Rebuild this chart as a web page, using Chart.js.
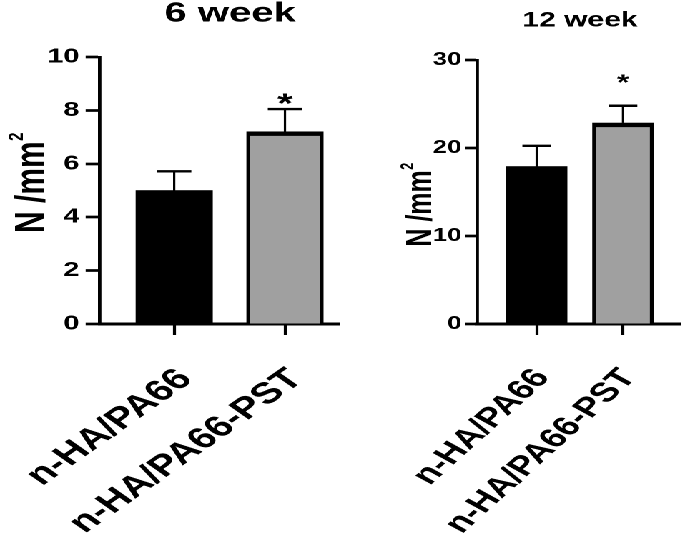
<!DOCTYPE html>
<html>
<head>
<meta charset="utf-8">
<script src="https://cdn.jsdelivr.net/npm/chart.js@4.4.1/dist/chart.umd.min.js"></script>
<style>
  html, body { margin: 0; padding: 0; background: #fff; overflow: hidden; }
  /* the reference figure is stretched sideways, so the panels are drawn narrow and widened */
  #stage { position: absolute; left: 0; top: 0; width: 479px; height: 538px; transform: scaleX(1.4301); transform-origin: 0 0; }
  .panel { position: absolute; top: 0; height: 538px; }
</style>
</head>
<body>
<div id="stage">
  <div class="panel" style="left:0;width:238px"><canvas id="week6"></canvas></div>
  <div class="panel" style="left:238px;width:241px"><canvas id="week12"></canvas></div>
</div>
<script>
// values (mean and upper error, N/mm2)
const groups = ['n-HA/PA66', 'n-HA/PA66-PST'];
const week6Mean = [5.0, 7.2];
const week6Err = [0.72, 0.85];
const week12Mean = [17.9, 22.85];
const week12Err = [2.35, 1.95];
const sigMarks = ['', '*'];
const week6Ticks = [0, 2, 4, 6, 8, 10];
const week12Ticks = [0, 10, 20, 30];
const barFills = ['#000000', '#a0a0a0'];

const FONT = "'Liberation Sans', Arial, sans-serif";

// one sided error bars + significance star, drawn through the y scale
const errorBars = {
  id: 'errorBars',
  afterDatasetsDraw(chart, args, opts) {
    const ctx = chart.ctx;
    const y = chart.scales.y;
    const pts = chart.data.datasets[0].data;
    chart.getDatasetMeta(0).data.forEach((bar, i) => {
      const mean = pts[i].y;
      const yTop = y.getPixelForValue(mean + opts.errors[i]);
      ctx.save();
      ctx.strokeStyle = '#000';
      ctx.lineWidth = opts.stemWidth;
      ctx.beginPath();
      ctx.moveTo(bar.x, y.getPixelForValue(mean));
      ctx.lineTo(bar.x, yTop);
      ctx.stroke();
      ctx.lineWidth = opts.capLine;
      ctx.beginPath();
      ctx.moveTo(bar.x - opts.capWidth / 2, yTop);
      ctx.lineTo(bar.x + opts.capWidth / 2, yTop);
      ctx.stroke();
      if (opts.marks[i]) {
        ctx.fillStyle = '#000';
        ctx.font = 'bold ' + opts.markSize + 'px ' + FONT;
        ctx.textAlign = 'center';
        ctx.textBaseline = 'alphabetic';
        // star glyph sits ~0.58em above the baseline
        ctx.fillText(opts.marks[i], bar.x, yTop - opts.markGap + 0.58 * opts.markSize);
      }
      ctx.restore();
    });
  }
};

// panel heading and the rotated y label (N /mm with a raised 2)
const panelText = {
  id: 'panelText',
  afterDraw(chart, args, opts) {
    const {ctx, chartArea} = chart;
    ctx.save();
    ctx.fillStyle = '#000';
    ctx.textAlign = 'center';
    ctx.textBaseline = 'middle';
    ctx.font = 'bold ' + opts.size + 'px ' + FONT;
    ctx.fillText(opts.text, (chartArea.left + chartArea.right) / 2 + opts.dx, opts.y);

    const f = opts.yLabelSize;
    const mainFont = 'bold ' + f + 'px ' + FONT;
    const supFont = 'bold ' + (0.5 * f) + 'px ' + FONT;
    ctx.translate(chartArea.left - opts.yLabelGap, (chartArea.top + chartArea.bottom) / 2 + opts.yLabelDy);
    ctx.rotate(-Math.PI / 2);
    ctx.textAlign = 'left';
    ctx.textBaseline = 'alphabetic';
    ctx.font = mainFont;
    const wMain = ctx.measureText('N /mm').width;
    ctx.font = supFont;
    const wSup = ctx.measureText('2').width;
    const x0 = -(wMain + wSup) / 2;
    const base = 0.36 * f; // centres the capitals on the anchor
    ctx.font = mainFont;
    ctx.fillText('N /mm', x0, base);
    ctx.font = supFont;
    ctx.fillText('2', x0 + wMain + 0.5, base - 0.5 * f);
    ctx.restore();
  }
};

function buildChart(id, cfg) {
  return new Chart(document.getElementById(id), {
    type: 'bar',
    data: {
      datasets: [{
        data: groups.map((g, i) => ({x: i, y: cfg.means[i]})),
        backgroundColor: barFills,
        borderColor: '#000',
        borderWidth: {top: 4.5, left: 2.8, right: 2.8, bottom: 0},
        borderSkipped: 'bottom',
        barThickness: cfg.barWidth
      }]
    },
    options: {
      responsive: true,
      maintainAspectRatio: false,
      animation: false,
      devicePixelRatio: 2,
      layout: {padding: {top: cfg.padTop, right: cfg.padRight, left: 0, bottom: 0}},
      plugins: {
        legend: {display: false},
        tooltip: {enabled: false},
        errorBars: {errors: cfg.errors, marks: sigMarks, capWidth: cfg.capWidth, stemWidth: 1.6, capLine: 2.4,
                    markSize: cfg.markSize, markGap: cfg.markGap},
        panelText: {text: cfg.title, size: cfg.titleSize, dx: cfg.titleDx, y: cfg.titleY,
                    yLabelSize: cfg.yTitleSize, yLabelGap: cfg.yTitleGap, yLabelDy: cfg.yTitleDy}
      },
      scales: {
        x: {
          type: 'linear',
          min: cfg.xMin,
          max: cfg.xMax,
          offset: false,
          z: 1,
          afterBuildTicks: s => { s.ticks = groups.map((g, i) => ({value: i})); },
          afterFit: s => { s.height = 214; s.paddingLeft = 0; s.paddingRight = 0; },
          grid: {offset: false, drawOnChartArea: false, tickLength: 11, tickWidth: 2.1, tickColor: '#000'},
          border: {display: true, color: '#000', width: 3},
          ticks: {
            color: '#000',
            autoSkip: false,
            minRotation: cfg.rot,
            maxRotation: cfg.rot,
            padding: cfg.labelPad,
            labelOffset: cfg.labelOffset,
            font: {family: FONT, weight: 'bold', size: cfg.labelSize},
            callback: v => groups[v]
          }
        },
        y: {
          min: 0,
          max: cfg.yMax,
          afterBuildTicks: s => { s.ticks = cfg.ticks.map(v => ({value: v})); },
          afterFit: s => { s.width = cfg.yWidth; },
          grid: {drawOnChartArea: false, tickLength: cfg.yTickLen, tickWidth: 2.7, tickColor: '#000'},
          border: {display: true, color: '#000', width: 2.4},
          ticks: {color: '#000', padding: cfg.yTickPad, font: {family: FONT, weight: 'bold', size: cfg.yTickSize}}
        }
      }
    },
    plugins: [errorBars, panelText]
  });
}

buildChart('week6', {
  means: week6Mean, errors: week6Err, ticks: week6Ticks, yMax: 10,
  title: '6 week', titleSize: 28, titleDx: 7, titleY: 14,
  padTop: 57, padRight: 0, yWidth: 69.9, yTickLen: 10, yTickPad: 4.4, yTickSize: 20,
  yTitleSize: 30, yTitleGap: 49.9, yTitleDy: -7.5,
  xMin: -0.67, xMax: 1.5, barWidth: 53.5, rot: 45, labelOffset: 8, labelPad: 27, labelSize: 29.5,
  capWidth: 24, markSize: 28, markGap: 12.7
});

buildChart('week12', {
  means: week12Mean, errors: week12Err, ticks: week12Ticks, yMax: 30,
  title: '12 week', titleSize: 21, titleDx: 1, titleY: 20.5,
  padTop: 60, padRight: 3.5, yWidth: 95.6, yTickLen: 8.4, yTickPad: 2.5, yTickSize: 18,
  yTitleSize: 25, yTitleGap: 40.9, yTitleDy: 13,
  xMin: -0.69, xMax: 1.66, barWidth: 42.5, rot: 52, labelOffset: 4, labelPad: 28, labelSize: 27,
  capWidth: 20, markSize: 22, markGap: 28.7
});
</script>
</body>
</html>
